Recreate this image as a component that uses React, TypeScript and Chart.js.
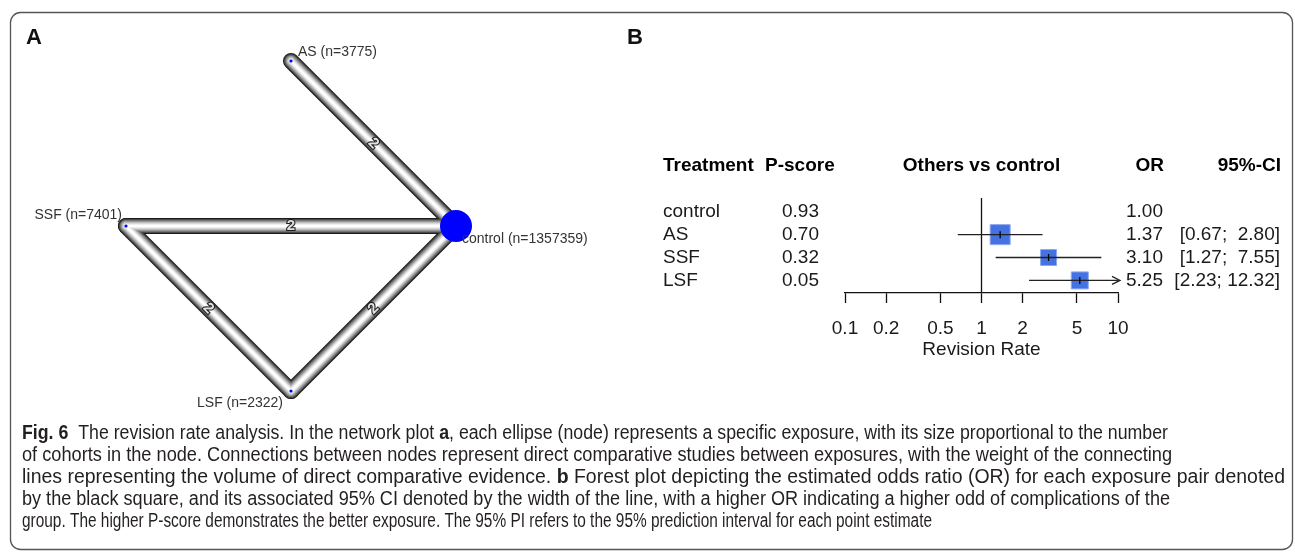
import React, { useEffect, useRef } from 'react';
import { Chart, registerables } from 'chart.js';

Chart.register(...registerables);

// ---------------- Data: panel A (network) ----------------
const NODE_NAMES = ['AS', 'SSF', 'control', 'LSF'];
const NODE_N = [3775, 7401, 1357359, 2322];
const NODE_X = [0, -1, 1, 0];
const NODE_Y = [1, 0, 0, -1];
const EDGE_FROM = ['AS', 'SSF', 'SSF', 'LSF'];
const EDGE_TO = ['control', 'control', 'LSF', 'control'];
const EDGE_STUDIES = [2, 2, 2, 2];

// ---------------- Data: panel B (forest) ----------------
const TREATMENTS = ['control', 'AS', 'SSF', 'LSF'];
const P_SCORES = [0.93, 0.7, 0.32, 0.05];
const ODDS_RATIO = [1.0, 1.37, 3.1, 5.25];
const CI_LO: (number | null)[] = [null, 0.67, 1.27, 2.23];
const CI_HI: (number | null)[] = [null, 2.8, 7.55, 12.32];
const X_TICKS = [0.1, 0.2, 0.5, 1, 2, 5, 10];
const X_TICK_LABELS = ['0.1', '0.2', '0.5', '1', '2', '5', '10'];
const X_MIN = 0.1;
const X_MAX = 10;
const HEADERS = ['Treatment', 'P-score', 'Others vs control', 'OR', '95%-CI'];
const X_TITLE = 'Revision Rate';

const CAPTION: [string, boolean][][] = [
  [['Fig. 6', true], ['  The revision rate analysis. In the network plot ', false], ['a', true], [', each ellipse (node) represents a specific exposure, with its size proportional to the number', false]],
  [['of cohorts in the node. Connections between nodes represent direct comparative studies between exposures, with the weight of the connecting', false]],
  [['lines representing the volume of direct comparative evidence. ', false], ['b', true], [' Forest plot depicting the estimated odds ratio (OR) for each exposure pair denoted', false]],
  [['by the black square, and its associated 95% CI denoted by the width of the line, with a higher OR indicating a higher odd of complications of the', false]],
  [['group. The higher P-score demonstrates the better exposure. The 95% PI refers to the 95% prediction interval for each point estimate', false]],
];

// ---------------- Styles ----------------
const W = 1295;
const H = 557;
const FF = '"Liberation Sans", Arial, Helvetica, sans-serif';
const NODE_RADIUS = [1.6, 1.6, 16, 1.6];
const NODE_LABEL_STYLE: Record<string, { dx: number; dy: number; align: CanvasTextAlign }> = {
  AS: { dx: 7, dy: -9, align: 'left' },
  SSF: { dx: -4, dy: -11, align: 'right' },
  control: { dx: 6, dy: 13, align: 'left' },
  LSF: { dx: -8, dy: 12, align: 'right' },
};
const TUBE: [number, string][] = [
  [16, '#1c1c1c'],
  [14, '#4a4a4a'],
  [12, '#737373'],
  [10, '#999999'],
  [8, '#bcbcbc'],
  [6, '#d9d9d9'],
  [4, '#efefef'],
  [2, '#ffffff'],
];
const SQUARE_SIDE = [0, 20, 16, 17];
const CAPTION_LEFT = 22;
const CAPTION_TOP = 433;
const CAPTION_STEP = 22;
const CAPTION_END = [1168, 1172, 1285, 1170, 932];

const nodeIdx = (n: string) => NODE_NAMES.indexOf(n);

export default function App() {
  const netRef = useRef<HTMLCanvasElement | null>(null);
  const forRef = useRef<HTMLCanvasElement | null>(null);

  useEffect(() => {
    // ---------- Network chart ----------
    const tubeSets: any[] = [];
    TUBE.forEach(([w, c], li) => {
      EDGE_FROM.forEach((f, ei) => {
        const a = nodeIdx(f);
        const b = nodeIdx(EDGE_TO[ei]);
        tubeSets.push({
          data: [
            { x: NODE_X[a], y: NODE_Y[a] },
            { x: NODE_X[b], y: NODE_Y[b] },
          ],
          showLine: true,
          borderColor: c,
          borderWidth: w,
          pointRadius: 0,
          pointHoverRadius: 0,
          borderCapStyle: 'round',
          borderJoinStyle: 'round',
          clip: false,
          order: 100 - li,
        });
      });
    });
    const nodeSet = {
      data: NODE_NAMES.map((_, i) => ({ x: NODE_X[i], y: NODE_Y[i] })),
      pointRadius: NODE_RADIUS,
      pointHoverRadius: NODE_RADIUS,
      backgroundColor: '#0000ff',
      borderWidth: 0,
      clip: false,
      order: 0,
    };

    const netPlugin = {
      id: 'netDecor',
      afterDatasetsDraw(chart: any) {
        const { ctx } = chart;
        const xs = chart.scales.x;
        const ys = chart.scales.y;
        EDGE_FROM.forEach((f, ei) => {
          const a = nodeIdx(f);
          const b = nodeIdx(EDGE_TO[ei]);
          const x1 = xs.getPixelForValue(NODE_X[a]);
          const y1 = ys.getPixelForValue(NODE_Y[a]);
          const x2 = xs.getPixelForValue(NODE_X[b]);
          const y2 = ys.getPixelForValue(NODE_Y[b]);
          let ang = Math.atan2(y2 - y1, x2 - x1);
          if (ang > Math.PI / 2) ang -= Math.PI;
          if (ang < -Math.PI / 2) ang += Math.PI;
          ctx.save();
          ctx.translate((x1 + x2) / 2, (y1 + y2) / 2);
          ctx.rotate(ang);
          ctx.font = `bold 15px ${FF}`;
          ctx.textAlign = 'center';
          ctx.textBaseline = 'middle';
          ctx.lineWidth = 2.2;
          ctx.strokeStyle = '#1e1e1e';
          ctx.strokeText(String(EDGE_STUDIES[ei]), 0, 0);
          ctx.fillStyle = '#e0e0e0';
          ctx.fillText(String(EDGE_STUDIES[ei]), 0, 0);
          ctx.restore();
        });
      },
      afterDraw(chart: any) {
        const { ctx } = chart;
        const xs = chart.scales.x;
        const ys = chart.scales.y;
        ctx.save();
        // node labels
        ctx.font = `14px ${FF}`;
        ctx.fillStyle = '#333333';
        ctx.textBaseline = 'middle';
        NODE_NAMES.forEach((name, i) => {
          const st = NODE_LABEL_STYLE[name];
          ctx.textAlign = st.align;
          ctx.fillText(`${name} (n=${NODE_N[i]})`, xs.getPixelForValue(NODE_X[i]) + st.dx, ys.getPixelForValue(NODE_Y[i]) + st.dy);
        });
        // frame
        ctx.beginPath();
        ctx.strokeStyle = '#555555';
        ctx.lineWidth = 1.3;
        (ctx as any).roundRect(10.5, 12.5, 1282, 537, 10);
        ctx.stroke();
        // panel letters
        ctx.fillStyle = '#111';
        ctx.font = `bold 22px ${FF}`;
        ctx.textAlign = 'left';
        ctx.textBaseline = 'middle';
        ctx.fillText('A', 26, 38);
        ctx.fillText('B', 627, 38);
        // caption (condensed by horizontal scaling)
        const fontFor = (b: boolean) => (b ? `bold 20px ${FF}` : `20px ${FF}`);
        const lineWidth = (line: [string, boolean][]) =>
          line.reduce((acc, [t, b]) => {
            ctx.font = fontFor(b);
            return acc + ctx.measureText(t).width;
          }, 0);
        ctx.fillStyle = '#231f20';
        CAPTION.forEach((line, li) => {
          const sx = (CAPTION_END[li] - CAPTION_LEFT) / lineWidth(line);
          ctx.save();
          ctx.translate(CAPTION_LEFT, CAPTION_TOP + li * CAPTION_STEP);
          ctx.scale(sx, 1);
          let x = 0;
          line.forEach(([t, b]) => {
            ctx.font = fontFor(b);
            ctx.fillText(t, x, 0);
            x += ctx.measureText(t).width;
          });
          ctx.restore();
        });
        ctx.restore();
      },
    };

    const netChart = new Chart(netRef.current as HTMLCanvasElement, {
      type: 'scatter',
      data: { datasets: [...tubeSets, nodeSet] },
      options: {
        animation: false,
        responsive: false,
        devicePixelRatio: 1,
        events: [],
        layout: { padding: { left: 93, right: W - 489, top: 28, bottom: H - 424 } },
        scales: {
          x: { type: 'linear', min: -1.2, max: 1.2, display: false },
          y: { type: 'linear', min: -1.2, max: 1.2, display: false },
        },
        plugins: { legend: { display: false }, tooltip: { enabled: false } },
      } as any,
      plugins: [netPlugin],
    });

    // ---------- Forest chart ----------
    const estRows = TREATMENTS.map((_, i) => i).filter((i) => CI_LO[i] !== null);
    const Y_TOP = -0.6;
    const Y_BOTTOM = 3.55;
    const refLine = {
      data: [
        { x: 1, y: Y_TOP },
        { x: 1, y: Y_BOTTOM },
      ],
      showLine: true,
      borderColor: '#111',
      borderWidth: 1.3,
      pointRadius: 0,
      clip: false,
      order: 5,
    };
    const squares = {
      data: estRows.map((i) => ({ x: ODDS_RATIO[i], y: i })),
      pointStyle: 'rect',
      pointRadius: estRows.map((i) => SQUARE_SIDE[i] / Math.SQRT2),
      backgroundColor: '#4472e2',
      borderColor: '#8fa9ef',
      borderWidth: 1,
      clip: false,
      order: 4,
    };
    const ciSets = estRows.map((i) => ({
      data: [
        { x: CI_LO[i] as number, y: i },
        { x: Math.min(CI_HI[i] as number, X_MAX), y: i },
      ],
      showLine: true,
      borderColor: '#222',
      borderWidth: 1.3,
      pointRadius: 0,
      clip: false,
      order: 2,
    }));
    const estTicks = {
      data: estRows.map((i) => ({ x: ODDS_RATIO[i], y: i })),
      pointStyle: 'line',
      rotation: 90,
      pointRadius: 3.5,
      borderColor: '#000',
      borderWidth: 1.3,
      clip: false,
      order: 1,
    };

    const forestPlugin = {
      id: 'forestText',
      afterDraw(chart: any) {
        const { ctx } = chart;
        const xs = chart.scales.x;
        const ys = chart.scales.y;
        ctx.save();
        estRows.forEach((i) => {
          if ((CI_HI[i] as number) > X_MAX) {
            const px = xs.getPixelForValue(X_MAX) + 2;
            const py = ys.getPixelForValue(i);
            ctx.beginPath();
            ctx.strokeStyle = '#222';
            ctx.lineWidth = 1.3;
            ctx.moveTo(px - 8, py - 4);
            ctx.lineTo(px, py);
            ctx.lineTo(px - 8, py + 4);
            ctx.stroke();
          }
        });
        ctx.textBaseline = 'middle';
        const hy = ys.getPixelForValue(-2);
        ctx.font = `bold 19px ${FF}`;
        ctx.fillStyle = '#000';
        ctx.textAlign = 'left';
        ctx.fillText(HEADERS[0], 663, hy);
        ctx.fillText(HEADERS[1], 765, hy);
        ctx.textAlign = 'center';
        ctx.fillText(HEADERS[2], xs.getPixelForValue(1), hy);
        ctx.textAlign = 'right';
        ctx.fillText(HEADERS[3], 1164, hy);
        ctx.fillText(HEADERS[4], 1281, hy);
        ctx.font = `19px ${FF}`;
        ctx.fillStyle = '#1a1a1a';
        TREATMENTS.forEach((t, i) => {
          const y = ys.getPixelForValue(i);
          ctx.textAlign = 'left';
          ctx.fillText(t, 663, y);
          ctx.fillText(P_SCORES[i].toFixed(2), 782, y);
          ctx.textAlign = 'right';
          ctx.fillText(ODDS_RATIO[i].toFixed(2), 1163, y);
          if (CI_LO[i] !== null) {
            const lo = (CI_LO[i] as number).toFixed(2);
            const hi = (CI_HI[i] as number).toFixed(2);
            ctx.fillText(`[${lo}; ${hi.length < 5 ? ' ' + hi : hi}]`, 1280, y);
          }
        });
        ctx.restore();
      },
    };

    const forestChart = new Chart(forRef.current as HTMLCanvasElement, {
      type: 'scatter',
      data: { datasets: [refLine, squares, ...ciSets, estTicks] as any },
      options: {
        animation: false,
        responsive: false,
        devicePixelRatio: 1,
        events: [],
        layout: { padding: { left: 845, right: W - 1118, top: 198, bottom: H - 293 - 70 } },
        scales: {
          x: {
            type: 'logarithmic',
            min: X_MIN,
            max: X_MAX,
            position: 'bottom',
            afterBuildTicks: (axis: any) => {
              axis.ticks = X_TICKS.map((v) => ({ value: v }));
            },
            afterFit: (axis: any) => {
              axis.height = 70;
            },
            ticks: {
              autoSkip: false,
              maxRotation: 0,
              padding: 14,
              color: '#1a1a1a',
              font: { family: FF, size: 19 },
              callback: (_v: any, i: number) => X_TICK_LABELS[i],
            },
            grid: {
              drawOnChartArea: false,
              drawTicks: true,
              tickLength: 10,
              tickColor: '#111',
              tickWidth: 1.3,
            },
            border: { display: true, color: '#111', width: 1.3 },
            title: {
              display: true,
              text: X_TITLE,
              color: '#1a1a1a',
              font: { family: FF, size: 19 },
              padding: { top: 0, bottom: 2 },
            },
          },
          y: { type: 'linear', min: Y_TOP, max: Y_BOTTOM, reverse: true, display: false },
        },
        plugins: { legend: { display: false }, tooltip: { enabled: false } },
      } as any,
      plugins: [forestPlugin],
    });

    return () => {
      netChart.destroy();
      forestChart.destroy();
    };
  }, []);

  return (
    <div style={{ position: 'fixed', left: 0, top: 0, width: W, height: H, background: '#fff' }}>
      <canvas ref={netRef} width={W} height={H} style={{ position: 'absolute', left: 0, top: 0, width: W, height: H }} />
      <canvas ref={forRef} width={W} height={H} style={{ position: 'absolute', left: 0, top: 0, width: W, height: H }} />
    </div>
  );
}
